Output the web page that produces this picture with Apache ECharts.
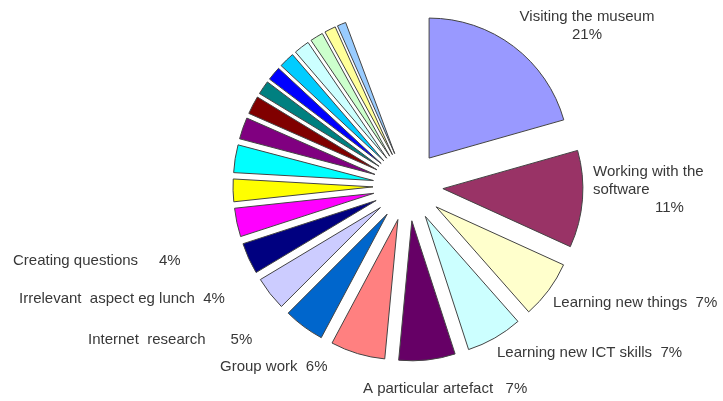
<!DOCTYPE html>
<html><head><meta charset="utf-8">
<script src="https://cdn.jsdelivr.net/npm/echarts@6/dist/echarts.min.js"></script>
<style>html,body{margin:0;padding:0;background:#fff}#c{width:723px;height:401px}</style>
</head><body><div id="c"></div>
<script>
// Slices, clockwise from 12 o'clock (values in % of the full circle)
const categories = [
  'Visiting the museum', 'Working with the software', 'Learning new things',
  'Learning new ICT skills', 'A particular artefact', 'Group work',
  'Internet research', 'Irrelevant aspect eg lunch', 'Creating questions',
  '', '', '', '', '', '', '', '', '', '', '', ''
];
const values = [20.6, 11.2, 6.7, 6.5, 6.5, 6.3, 4.7, 3.9, 3.6,
  3.3, 2.6, 3.2, 2.5, 2.1, 1.6, 1.6, 1.8, 1.8, 1.5, 1.3, 1.0];
const colors = ['#9999FF', '#993366', '#FFFFCC', '#CCFFFF', '#660066', '#FF8080',
  '#0066CC', '#CCCCFF', '#000080', '#FF00FF', '#FFFF00', '#00FFFF', '#800080',
  '#800000', '#008080', '#0000FF', '#00CCFF', '#CCFFFF', '#CCFFCC', '#FFFF99', '#99CCFF'];
const labelled = 9;

const total = values.reduce((a, b) => a + b, 0);
const FONT = 'Liberation Sans, Arial, sans-serif';

function labelText(i) {
  const v = Math.round(values[i]) + '%';
  switch (i) {
    case 0: return categories[0] + '\n' + v;
    case 1: return 'Working with the\nsoftware\n{p|' + v + '}';
    case 2: return categories[2] + '  ' + v;
    case 3: return categories[3] + '  ' + v;
    case 4: return categories[4] + '   ' + v;
    case 5: return categories[5] + '  ' + v;
    case 6: return 'Internet  research      ' + v;
    case 7: return 'Irrelevant  aspect eg lunch  ' + v;
    case 8: return categories[8] + '     ' + v;
  }
  return '';
}

const labelPos = [
  {x: 587, y: 26, align: 'center'},
  {x: 593, y: 190, align: 'left'},
  {x: 553, y: 303, align: 'left'},
  {x: 497, y: 353, align: 'left'},
  {x: 363, y: 389, align: 'left'},
  {x: 220, y: 367, align: 'left'},
  {x: 88, y: 340, align: 'left'},
  {x: 19, y: 299, align: 'left'},
  {x: 13, y: 261, align: 'left'}
];

const pieGeom = {
  type: 'pie',
  center: [408, 186],
  radius: 140,
  startAngle: 90,
  endAngle: 90 - total * 3.6,
  clockwise: true,
  avoidLabelOverlap: false,
  emphasis: {disabled: true}
};

const chart = echarts.init(document.getElementById('c'), null, {renderer: 'canvas'});
chart.setOption({
  backgroundColor: '#ffffff',
  animation: false,
  series: [
    Object.assign({}, pieGeom, {
      name: 'slices',
      selectedMode: 'multiple',
      selectedOffset: 35,
      itemStyle: {borderColor: '#444444', borderWidth: 1},
      label: {show: false},
      labelLine: {show: false},
      data: values.map((v, i) => ({
        name: categories[i], value: v, selected: true,
        itemStyle: {color: colors[i]}
      }))
    }),
    Object.assign({}, pieGeom, {
      name: 'labels',
      silent: true,
      z: 1,
      itemStyle: {color: 'rgba(0,0,0,0)', borderWidth: 0},
      label: {
        position: 'outside',
        color: '#383838',
        fontFamily: FONT,
        fontSize: 15,
        lineHeight: 18,
        formatter: p => labelText(p.dataIndex),
        rich: {p: {padding: [0, 0, 0, 62], fontSize: 15, color: '#383838', fontFamily: FONT}}
      },
      labelLine: {show: false},
      labelLayout: function (params) {
        const p = labelPos[params.dataIndex];
        if (!p) return {};
        return {x: p.x, y: p.y, align: p.align, verticalAlign: 'middle'};
      },
      data: values.map((v, i) => ({
        name: categories[i], value: v,
        label: {show: i < labelled}
      }))
    })
  ]
});
</script>
</body></html>
